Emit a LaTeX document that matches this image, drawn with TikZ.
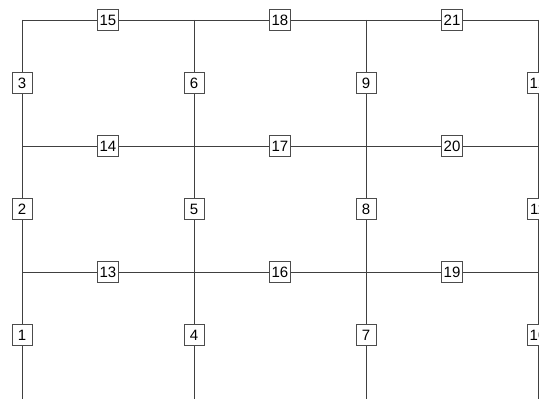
\documentclass[tikz,border=0pt]{standalone}
\usepackage{fontspec}
\setmainfont{Liberation Sans}
\begin{document}
\begin{tikzpicture}[x=1pt,y=1pt,
  lbl/.style={draw=black!70,line width=0.9pt,fill=white,inner xsep=2.5pt,inner ysep=1pt,
    minimum width=20pt,minimum height=21pt,font=\fontsize{15}{15}\selectfont},
  gridline/.style={draw=black!75,line width=0.9pt}]
\useasboundingbox (0,0) rectangle (539,399);
% grid coordinates (px from top converted)
\foreach \i/\x in {0/22,1/194,2/366,3/538}{
  \coordinate (t\i) at (\x,379);
  \coordinate (m\i) at (\x,253);
  \coordinate (l\i) at (\x,127);
  \coordinate (b\i) at (\x,-2);
}
% vertical labels
\foreach \i/\x in {0/22,1/194,2/366,3/538}{
  \pgfmathtruncatemacro\na{3*\i+1}
  \pgfmathtruncatemacro\nb{3*\i+2}
  \pgfmathtruncatemacro\nc{3*\i+3}
  \node[lbl] (n\na) at (\x,64) {\na};
  \node[lbl] (n\nb) at (\x,190) {\nb};
  \node[lbl] (n\nc) at (\x,316) {\nc};
}
% horizontal labels
\foreach \j/\x in {0/108,1/280,2/452}{
  \pgfmathtruncatemacro\na{13+3*\j}
  \pgfmathtruncatemacro\nb{14+3*\j}
  \pgfmathtruncatemacro\nc{15+3*\j}
  \node[lbl] (n\na) at (\x,127) {\na};
  \node[lbl] (n\nb) at (\x,253) {\nb};
  \node[lbl] (n\nc) at (\x,379) {\nc};
}
% vertical lines
\foreach \i in {0,1,2,3}{
  \pgfmathtruncatemacro\na{3*\i+1}
  \pgfmathtruncatemacro\nb{3*\i+2}
  \pgfmathtruncatemacro\nc{3*\i+3}
  \draw[gridline] (t\i) -- (n\nc) -- (n\nb) -- (n\na) -- (b\i);
}
% horizontal lines
\draw[gridline] (t0) -- (n15) -- (n18) -- (n21) -- (t3);
\draw[gridline] (m0) -- (n14) -- (n17) -- (n20) -- (m3);
\draw[gridline] (l0) -- (n13) -- (n16) -- (n19) -- (l3);
\end{tikzpicture}
\end{document}
